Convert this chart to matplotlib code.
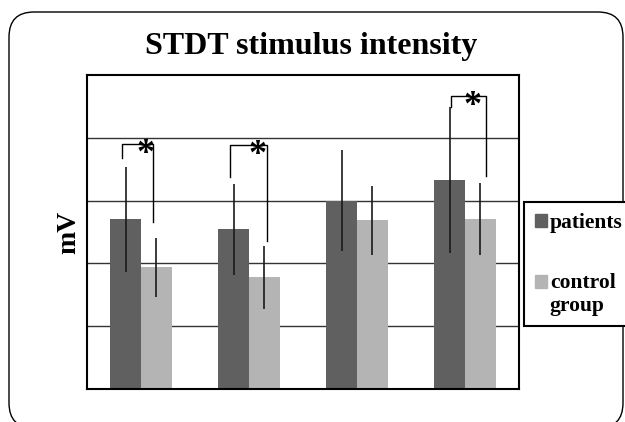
import numpy as np
import matplotlib; matplotlib.use("Agg")
import matplotlib.pyplot as plt
from matplotlib.patches import FancyBboxPatch, Patch, Rectangle
from matplotlib.legend_handler import HandlerPatch
from matplotlib.transforms import IdentityTransform

# --- data (arbitrary units: one grid step = 1) ---
groups = ["1", "2", "3", "4"]
patients = [2.70, 2.54, 3.00, 3.33]
patients_err = [0.83, 0.72, 0.80, 1.16]
control = [1.94, 1.78, 2.69, 2.71]
control_err = [0.47, 0.50, 0.55, 0.57]

# significance brackets: group index, top y, left-leg bottom, right-leg bottom
sig_group = [0, 1, 3]
sig_top = [3.90, 3.89, 4.67]
sig_left_bottom = [3.68, 3.37, 4.49]
sig_right_bottom = [2.66, 2.36, 3.39]
sig_dx = [(-0.18, 0.11, 0.04), (-0.18, 0.167, 0.08), (-0.13, 0.19, 0.07)]

serif = ["Liberation Serif", "DejaVu Serif"]
dark, light = "#606060", "#b4b4b4"
leg_size = 15.5

fig = plt.figure(figsize=(6.25, 4.22), dpi=100)
ax = fig.add_axes([0.1392, 0.0782, 0.6912, 0.7441])

x = np.arange(len(groups))
w = 0.287
ax.bar(x - w / 2, patients, w, color=dark, zorder=2)
ax.bar(x + w / 2, control, w, color=light, zorder=2)
ax.errorbar(x - w / 2, patients, yerr=patients_err, fmt="none", ecolor="#1a1a1a",
            elinewidth=1.2, capsize=0, zorder=3)
ax.errorbar(x + w / 2, control, yerr=control_err, fmt="none", ecolor="#1a1a1a",
            elinewidth=1.2, capsize=0, zorder=3)

for g, top, lb, rb, (dl, dr, ds) in zip(sig_group, sig_top, sig_left_bottom,
                                        sig_right_bottom, sig_dx):
    ax.plot([g + dl, g + dl, g + dr, g + dr], [lb, top, top, rb],
            color="black", lw=1.0, zorder=4)
    ax.annotate("*", (g + ds, top), xytext=(0, -7.5), textcoords="offset points",
                ha="center", va="center", fontsize=26, fontweight="bold",
                family=serif, zorder=5)

ax.set_xlim(-0.5, len(groups) - 0.5)
ax.set_ylim(0, 5)
ax.set_yticks([1, 2, 3, 4])
ax.set_xticks([])
ax.tick_params(length=0, labelleft=False)
ax.grid(axis="y", color="#333333", lw=1.0, zorder=1)
for s in ax.spines.values():
    s.set_linewidth(1.5)

fig.text(0.498, 0.872, "STDT stimulus intensity", ha="center", va="baseline",
         fontsize=23, fontweight="bold", family=serif)
fig.text(69 / 625, 1 - 232 / 422, "mV", rotation=90, ha="center", va="center",
         fontsize=20, fontweight="bold", family=serif)


# two-line label: put the swatch next to the first line, like the original
def first_line_patch(legend, orig_handle, xdescent, ydescent, width, height, fontsize):
    return Rectangle((-xdescent, -ydescent + 0.6 * fontsize), width, height)


p_handle, c_handle = Patch(color=dark), Patch(color=light)
leg = fig.legend([p_handle, c_handle], ["patients", "control\ngroup"], loc="upper left",
                 bbox_to_anchor=(524 / 625, 1 - 202 / 422), borderaxespad=0,
                 prop={"family": serif, "weight": "bold", "size": leg_size},
                 handlelength=0.55, handleheight=0.55, handletextpad=0.15,
                 labelspacing=1.85, borderpad=0.5, fancybox=False,
                 edgecolor="black", framealpha=1,
                 handler_map={c_handle: HandlerPatch(patch_func=first_line_patch)})
leg.get_frame().set_linewidth(1.5)

# rounded outer frame, in pixels
frame = FancyBboxPatch((9, -6), 614, 416, boxstyle="round,pad=0,rounding_size=25",
                       transform=IdentityTransform(), fill=False, edgecolor="black",
                       lw=1.0)
fig.patches.append(frame)

fig.savefig("out.png", dpi=100, facecolor="white")
